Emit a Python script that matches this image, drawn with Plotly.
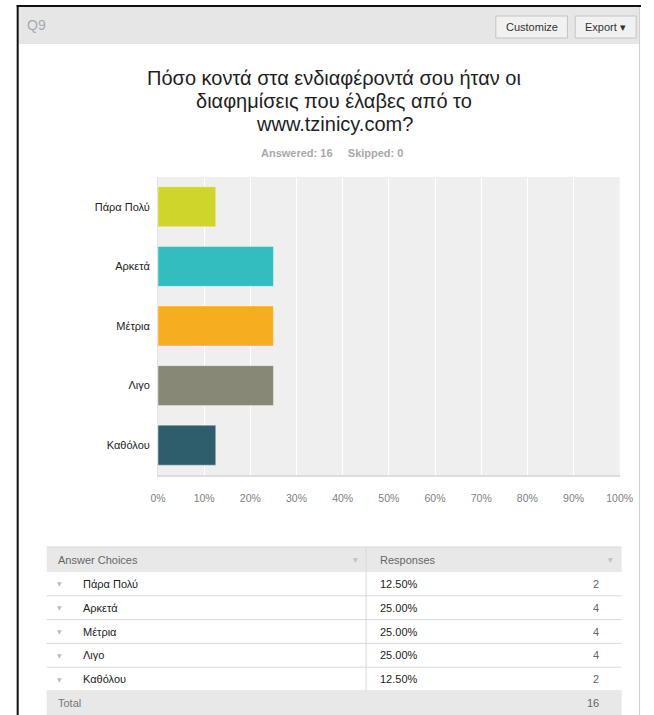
import plotly.graph_objects as go

# ---------------- data ----------------
categories = ["Πάρα Πολύ", "Αρκετά", "Μέτρια", "Λιγο", "Καθόλου"]
percents = [12.5, 25.0, 25.0, 25.0, 12.5]
counts = [2, 4, 4, 4, 2]
percent_labels = ["12.50%", "25.00%", "25.00%", "25.00%", "12.50%"]
tick_values = [0, 10, 20, 30, 40, 50, 60, 70, 80, 90, 100]
tick_labels = ["0%", "10%", "20%", "30%", "40%", "50%", "60%", "70%", "80%", "90%", "100%"]
total_count = 16
answered = 16
skipped = 0
question_id = "Q9"
title_lines = ["Πόσο κοντά στα ενδιαφέροντά σου ήταν οι",
               "διαφημίσεις που έλαβες από το",
               "www.tzinicy.com?"]

# ---------------- style ----------------
bar_colors = ["#cfd52a", "#33bdbf", "#f6ad1f", "#888877", "#2e5e6b"]
W, H = 654, 715
FONT = "Liberation Sans, Arial, sans-serif"


def X(px):
    return px / W


def Y(py):
    return 1 - py / H


fig = go.Figure()
fig.add_trace(go.Bar(
    x=percents, y=categories, orientation="h",
    marker=dict(color=bar_colors, line=dict(color="rgba(255,255,255,0.35)", width=1)),
    hoverinfo="skip", showlegend=False,
))

shapes = []
annotations = []

# outer frame (black) and header band
shapes.append(dict(type="rect", xref="paper", yref="paper", x0=X(11), x1=X(652), y0=Y(44), y1=Y(7),
                   fillcolor="#e6e6e6", line=dict(width=0), layer="below"))
shapes.append(dict(type="line", xref="paper", yref="paper", x0=X(9), x1=X(654), y0=Y(6), y1=Y(6),
                   line=dict(color="#111111", width=2)))
shapes.append(dict(type="line", xref="paper", yref="paper", x0=X(10), x1=X(10), y0=Y(5), y1=Y(715),
                   line=dict(color="#111111", width=2)))
shapes.append(dict(type="line", xref="paper", yref="paper", x0=X(652.5), x1=X(652.5), y0=Y(7), y1=Y(715),
                   line=dict(color="#cfcfcf", width=1)))

annotations.append(dict(text=question_id, x=X(18), y=Y(25), xref="paper", yref="paper", xanchor="left",
                        yanchor="middle", showarrow=False, font=dict(family=FONT, size=14, color="#a4abb3")))

# buttons
for (x0, x1, label) in [(504, 578, "Customize"), (586, 649, "Export ▾")]:
    shapes.append(dict(type="rect", xref="paper", yref="paper", x0=X(x0), x1=X(x1), y0=Y(38), y1=Y(16),
                       fillcolor="#f1f1f1", line=dict(color="#c4c4c4", width=1)))
    annotations.append(dict(text=label, x=X((x0 + x1) / 2), y=Y(27), xref="paper", yref="paper",
                            xanchor="center", yanchor="middle", showarrow=False,
                            font=dict(family=FONT, size=11, color="#333333")))

# title
for i, line in enumerate(title_lines):
    annotations.append(dict(text=line, x=X(337), y=Y(78 + 23 * i), xref="paper", yref="paper",
                            xanchor="center", yanchor="middle", showarrow=False,
                            font=dict(family=FONT, size=20, color="#1e1e1e")))
annotations.append(dict(text=f"<b>Answered: {answered}&nbsp;&nbsp;&nbsp;&nbsp;&nbsp;Skipped: {skipped}</b>",
                        x=X(335), y=Y(153), xref="paper", yref="paper", xanchor="center", yanchor="middle",
                        showarrow=False, font=dict(family=FONT, size=11, color="#a8a8a8")))

# ---------------- table ----------------
TL, TR, TD = 40, 634, 370
header_top, header_bot = 547, 572
row_h = 23.8
shapes.append(dict(type="rect", xref="paper", yref="paper", x0=X(TL), x1=X(TR), y0=Y(header_bot), y1=Y(header_top),
                   fillcolor="#e8e8e8", line=dict(width=0)))
shapes.append(dict(type="line", xref="paper", yref="paper", x0=X(TL), x1=X(TR), y0=Y(header_top), y1=Y(header_top),
                   line=dict(color="#d8d8d8", width=1)))
annotations.append(dict(text="Answer Choices", x=X(50), y=Y(559.5), xref="paper", yref="paper", xanchor="left",
                        yanchor="middle", showarrow=False, font=dict(family=FONT, size=11, color="#666666")))
annotations.append(dict(text="Responses", x=X(382), y=Y(559.5), xref="paper", yref="paper", xanchor="left",
                        yanchor="middle", showarrow=False, font=dict(family=FONT, size=11, color="#666666")))
for tx in (359, 623):
    annotations.append(dict(text="▼", x=X(tx), y=Y(559), xref="paper", yref="paper", xanchor="center",
                            yanchor="middle", showarrow=False, font=dict(family="DejaVu Sans", size=6, color="#c0c0c0")))

n = len(categories)
for i in range(n):
    top = header_bot + i * row_h
    cy = top + row_h / 2
    bot = top + row_h
    shapes.append(dict(type="line", xref="paper", yref="paper", x0=X(TL), x1=X(TR), y0=Y(bot), y1=Y(bot),
                       line=dict(color="#d9d9d9", width=1)))
    annotations.append(dict(text="▼", x=X(53), y=Y(cy), xref="paper", yref="paper", xanchor="center",
                            yanchor="middle", showarrow=False, font=dict(family="DejaVu Sans", size=6, color="#bdbdbd")))
    annotations.append(dict(text=categories[i], x=X(75), y=Y(cy), xref="paper", yref="paper", xanchor="left",
                            yanchor="middle", showarrow=False, font=dict(family=FONT, size=11, color="#222222")))
    annotations.append(dict(text=percent_labels[i], x=X(382), y=Y(cy), xref="paper", yref="paper", xanchor="left",
                            yanchor="middle", showarrow=False, font=dict(family=FONT, size=11, color="#222222")))
    annotations.append(dict(text=str(counts[i]), x=X(613), y=Y(cy), xref="paper", yref="paper", xanchor="right",
                            yanchor="middle", showarrow=False, font=dict(family=FONT, size=11, color="#666666")))

total_top = header_bot + n * row_h
shapes.append(dict(type="rect", xref="paper", yref="paper", x0=X(TL), x1=X(TR), y0=Y(715), y1=Y(total_top),
                   fillcolor="#e8e8e8", line=dict(width=0)))
shapes.append(dict(type="line", xref="paper", yref="paper", x0=X(TD), x1=X(TD), y0=Y(total_top), y1=Y(header_top),
                   line=dict(color="#d9d9d9", width=1)))
annotations.append(dict(text="Total", x=X(50), y=Y(total_top + 12), xref="paper", yref="paper", xanchor="left",
                        yanchor="middle", showarrow=False, font=dict(family=FONT, size=11, color="#777777")))
annotations.append(dict(text=str(total_count), x=X(613), y=Y(total_top + 12), xref="paper", yref="paper",
                        xanchor="right", yanchor="middle", showarrow=False,
                        font=dict(family=FONT, size=11, color="#666666")))

fig.update_layout(
    width=W, height=H,
    margin=dict(l=0, r=0, t=0, b=0),
    paper_bgcolor="white",
    plot_bgcolor="#efefef",
    bargap=0.33,
    shapes=shapes,
    annotations=annotations,
    xaxis=dict(domain=[X(155), X(632)], range=[0, 100], tickvals=tick_values, ticktext=tick_labels,
               showgrid=True, gridcolor="white", gridwidth=1, zeroline=False,
               showline=True, linecolor="#dcdcdc", linewidth=2, ticks="",
               ticklabelstandoff=12, tickfont=dict(family=FONT, size=10.5, color="#808080"), fixedrange=True),
    yaxis=dict(domain=[Y(475), Y(177)], autorange="reversed", showgrid=False, zeroline=False,
               showline=True, linecolor="#e2e2e2", linewidth=1, ticks="", ticklabelstandoff=5,
               tickfont=dict(family=FONT, size=11, color="#222222"), fixedrange=True),
)

fig.write_html(
    "out.html",
    config={"displayModeBar": False},
    post_script="document.body.style.margin='0';document.body.style.overflow='hidden';",
)
